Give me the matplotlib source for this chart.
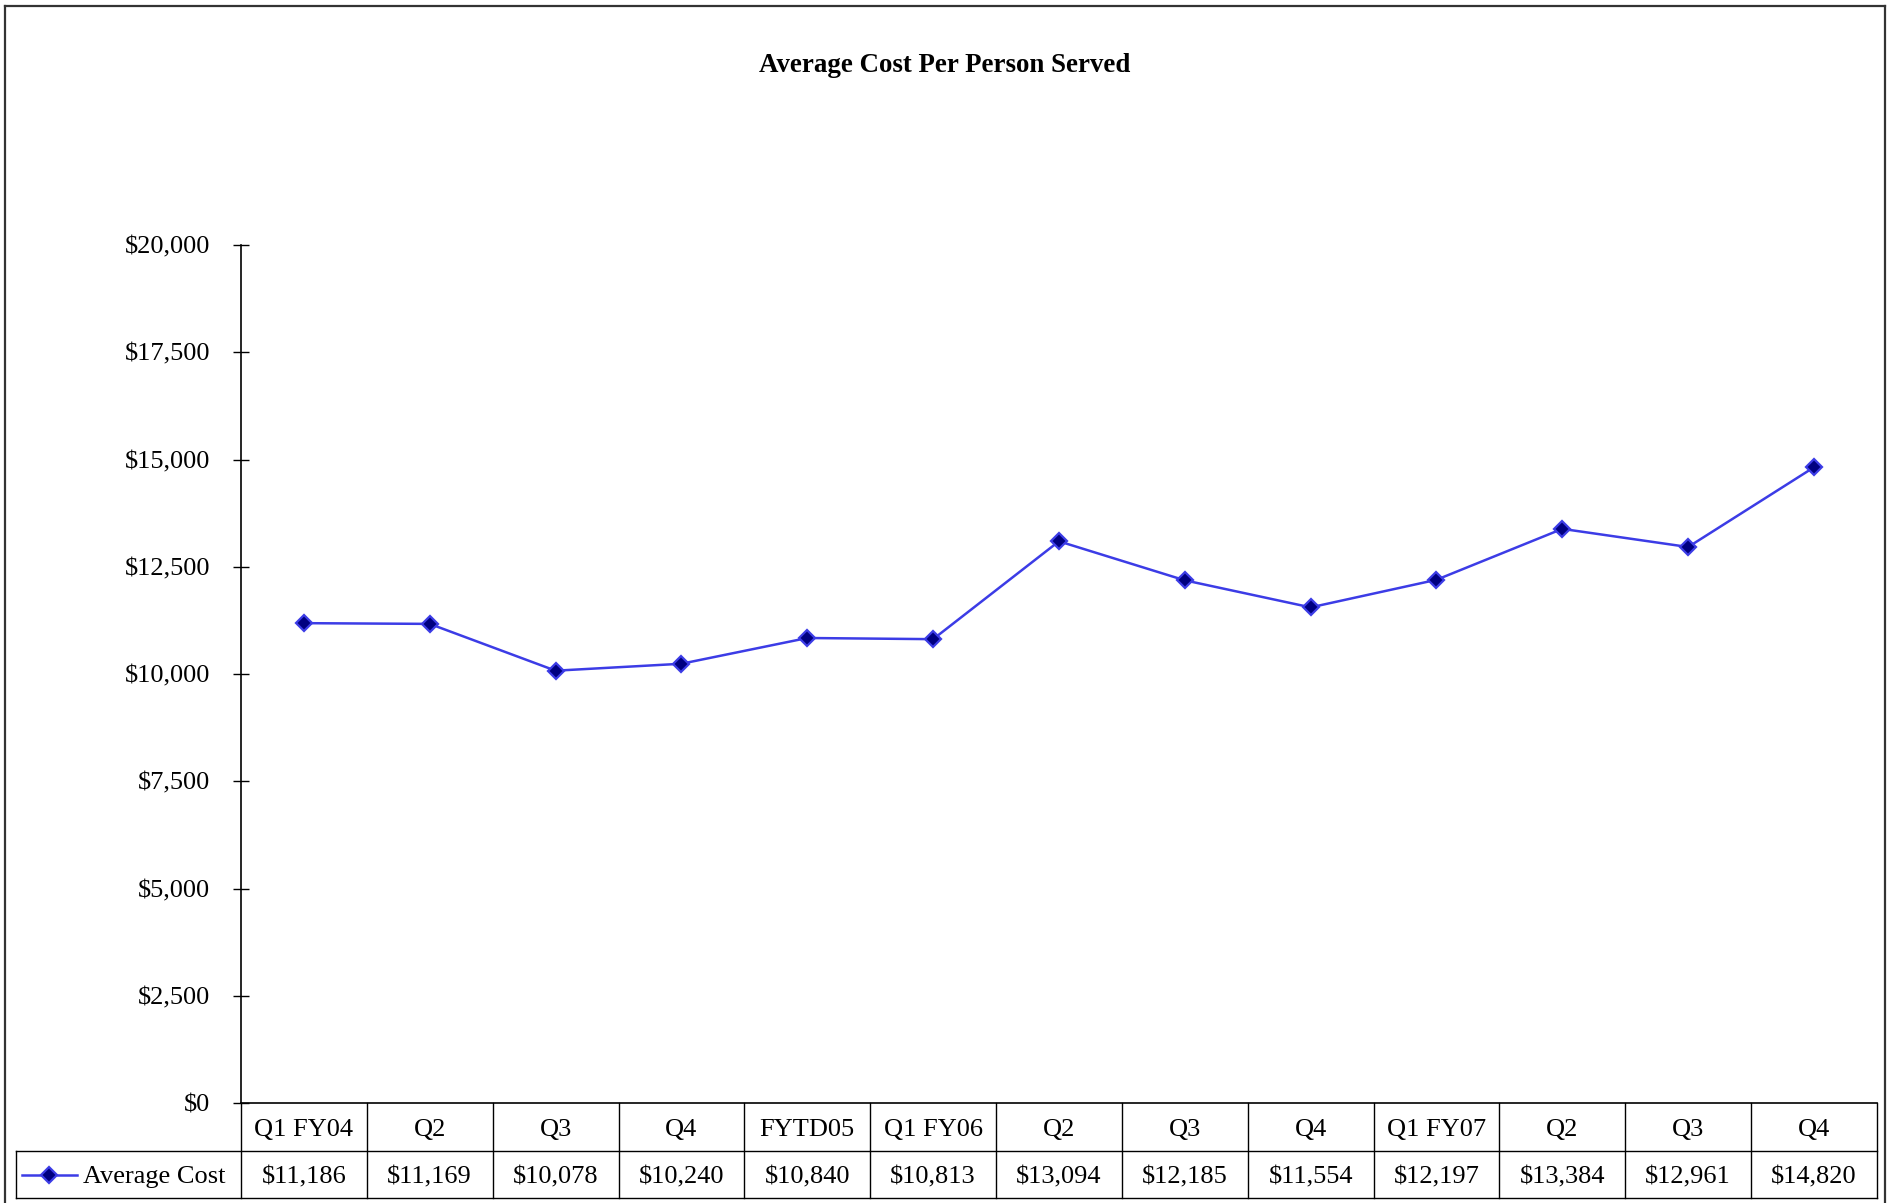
import matplotlib
matplotlib.use("Agg")
import matplotlib.pyplot as plt
from matplotlib.lines import Line2D
from matplotlib.ticker import FuncFormatter

# data
periods = ["Q1 FY04", "Q2", "Q3", "Q4", "FYTD05", "Q1 FY06", "Q2", "Q3", "Q4",
           "Q1 FY07", "Q2", "Q3", "Q4"]
avg_cost = [11186, 11169, 10078, 10240, 10840, 10813, 13094, 12185, 11554,
            12197, 13384, 12961, 14820]
series_name = "Average Cost"
title = "Average Cost Per Person Served"
y_ticks = list(range(0, 20001, 2500))

plt.rcParams['font.family'] = ['Liberation Serif', 'DejaVu Serif']

LINE_C = '#3c3ce6'
FACE_C = '#000080'
FS = 19

fig = plt.figure(figsize=(18.93, 12.03), dpi=100)
ax = fig.add_axes([0.1273, 0.0831, 0.8642, 0.7132])

x = list(range(len(periods)))
ax.plot(x, avg_cost, color=LINE_C, lw=1.8, marker='D', ms=8,
        mfc=FACE_C, mec=LINE_C, mew=1.6)
ax.set_xlim(-0.5, len(periods) - 0.5)
ax.set_ylim(0, 20000)
ax.set_yticks(y_ticks)
ax.yaxis.set_major_formatter(FuncFormatter(lambda v, p: f"${v:,.0f}"))
ax.tick_params(axis='y', direction='inout', length=11.5, width=1, pad=16.5,
               labelsize=FS)
ax.set_xticks([])
for s in ['top', 'right']:
    ax.spines[s].set_visible(False)
ax.spines['left'].set_linewidth(1.2)
ax.spines['bottom'].set_linewidth(1.2)

# data table under the axis
trans = ax.get_xaxis_transform()
r1, r2 = 0.0559, 0.0548
leg_x = -0.1375
kw = dict(color='black', lw=1, clip_on=False)
ax.plot([leg_x, 1], [-r1, -r1], transform=ax.transAxes, **kw)
ax.plot([leg_x, 1], [-r1 - r2, -r1 - r2], transform=ax.transAxes, **kw)
ax.plot([leg_x, leg_x], [-r1, -r1 - r2], transform=ax.transAxes, **kw)
for i in range(len(periods) + 1):
    ax.plot([i - 0.5, i - 0.5], [0, -r1 - r2], transform=trans, **kw)
dy = 0.003
for i, (p, v) in enumerate(zip(periods, avg_cost)):
    ax.text(i, -r1 / 2 - dy, p, transform=trans, ha='center', va='center',
            fontsize=FS)
    ax.text(i, -r1 - r2 / 2 - dy, f"${v:,}", transform=trans, ha='center',
            va='center', fontsize=FS)

# legend key inside the table row
ly = -r1 - r2 / 2
ax.plot([-0.1339, -0.1002], [ly, ly], transform=ax.transAxes, color=LINE_C,
        lw=1.8, clip_on=False)
ax.plot([-0.1174], [ly], transform=ax.transAxes, marker='D', ms=8, mfc=FACE_C,
        mec=LINE_C, mew=1.6, clip_on=False)
ax.text(-0.0965, ly - dy, series_name, transform=ax.transAxes, ha='left',
        va='center', fontsize=FS)

fig.text(945 / 1893, 1 - 65 / 1203, title, ha='center', va='center',
         fontsize=19.4, fontweight='bold')

# outer chart frame
fl, fr, ft = 5 / 1893, 1885 / 1893, 1 - 6 / 1203
for xs, ys in [([fl, fr], [ft, ft]), ([fl, fl], [ft, 0]), ([fr, fr], [ft, 0])]:
    fig.add_artist(Line2D(xs, ys, transform=fig.transFigure, color='#333333', lw=1.6))

plt.savefig("out.png", dpi=100)
plt.close()
